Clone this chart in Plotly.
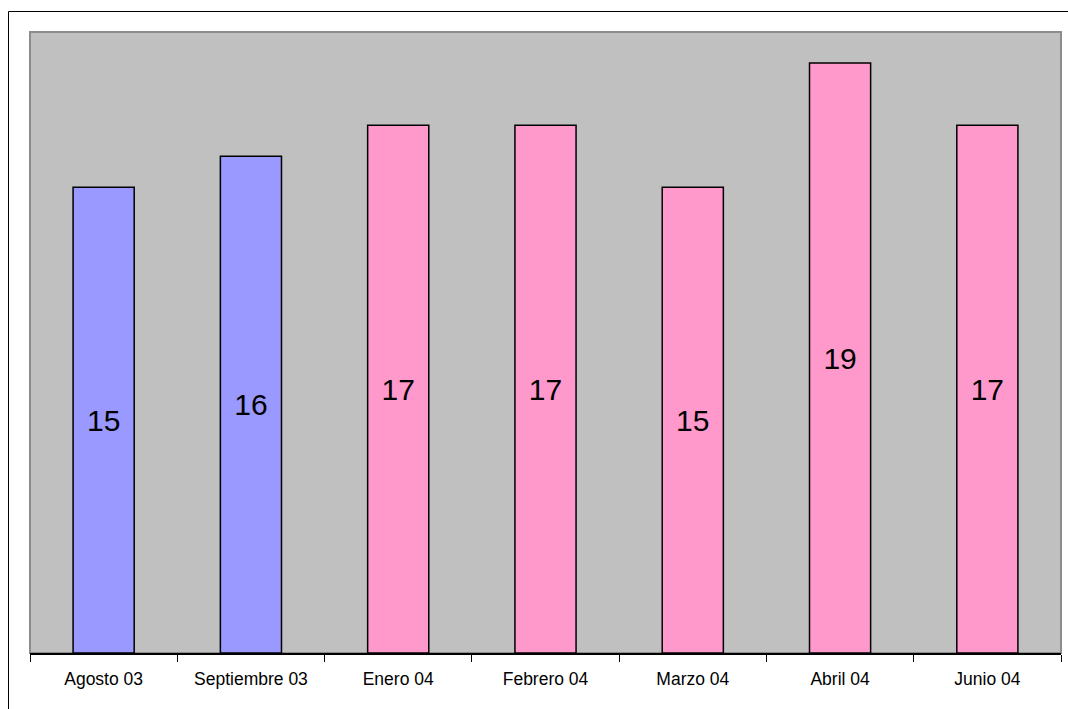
import plotly.graph_objects as go

# Monthly values
months = ["Agosto 03", "Septiembre 03", "Enero 04", "Febrero 04",
          "Marzo 04", "Abril 04", "Junio 04"]
values = [15, 16, 17, 17, 15, 19, 17]
bar_colors = ["#9999FF", "#9999FF", "#FF99CC", "#FF99CC",
              "#FF99CC", "#FF99CC", "#FF99CC"]

W, H = 1068, 709
L, R, T, B = 30, 7, 32, 56
plot_w = W - L - R
plot_h = H - T - B

fig = go.Figure(
    go.Bar(
        x=months,
        y=values,
        marker=dict(color=bar_colors, line=dict(color="black", width=1.5)),
        text=[str(v) for v in values],
        textposition="inside",
        insidetextanchor="middle",
        textangle=0,
        textfont=dict(family="Liberation Sans, Arial", size=30, color="black"),
        hoverinfo="x+y",
    )
)

# outer chart frame (left and top edges visible)
fx0 = (8.5 - L) / plot_w
fy1 = 1 + (T - 11.5) / plot_h
fig.add_shape(type="rect", xref="paper", yref="paper",
              x0=fx0, x1=1.2, y0=-0.2, y1=fy1,
              line=dict(color="black", width=1), layer="below")
# plot area border
fig.add_shape(type="rect", xref="paper", yref="paper",
              x0=0, x1=1, y0=0, y1=1,
              line=dict(color="#8C8C8C", width=2), layer="below")

fig.update_layout(
    width=W, height=H,
    margin=dict(l=L, r=R, t=T, b=B),
    paper_bgcolor="white",
    plot_bgcolor="#C0C0C0",
    bargap=0.585,
    showlegend=False,
    font=dict(family="Liberation Sans, Arial", color="black"),
)
fig.update_xaxes(
    showline=True, linecolor="black", linewidth=1.5,
    ticks="outside", tickson="boundaries", ticklen=7,
    tickcolor="black", tickwidth=1,
    tickfont=dict(size=17.5, color="black"),
    ticklabelstandoff=9,
    showgrid=False,
)
fig.update_yaxes(range=[0, 20], visible=False, showgrid=False)

fig.write_html("out.html")
